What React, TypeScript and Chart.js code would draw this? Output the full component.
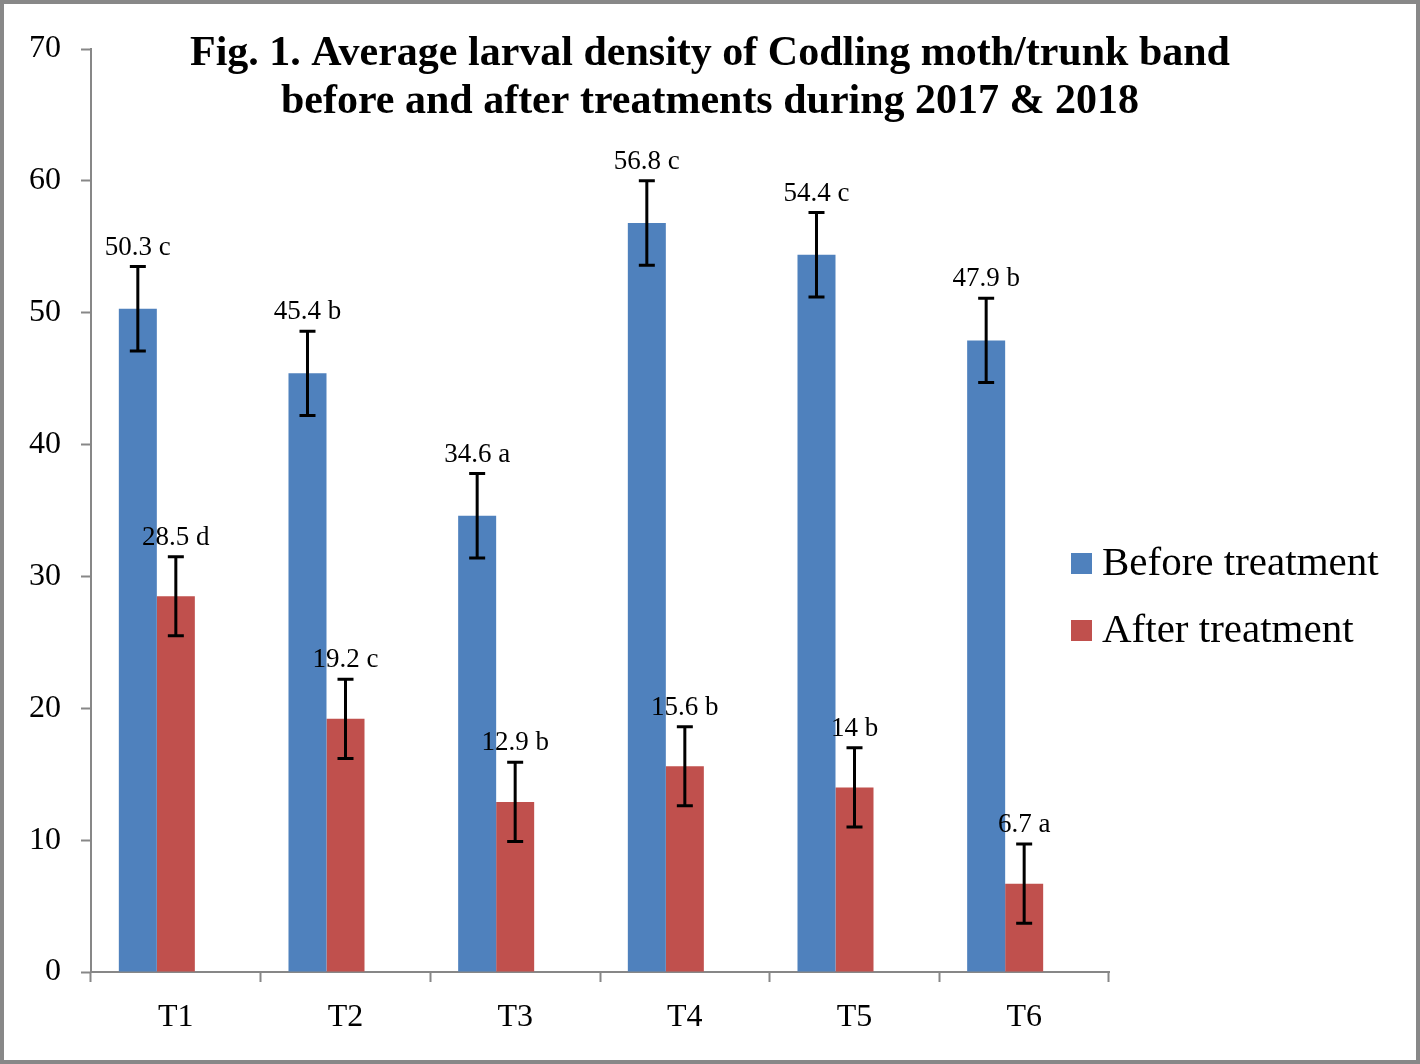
import React, { useEffect, useRef } from "react";
import { Chart, registerables } from "chart.js";

Chart.register(...registerables);

const categories = ["T1", "T2", "T3", "T4", "T5", "T6"];
const beforeValues = [50.3, 45.4, 34.6, 56.8, 54.4, 47.9];
const afterValues = [28.5, 19.2, 12.9, 15.6, 14, 6.7];
const emptySlot = [null, null, null, null, null, null];
const beforeErrors = [3.2, 3.2, 3.2, 3.2, 3.2, 3.2];
const afterErrors = [3.0, 3.0, 3.0, 3.0, 3.0, 3.0];
const beforeLetters = ["c", "b", "a", "c", "c", "b"];
const afterLetters = ["d", "c", "b", "b", "b", "a"];
const seriesNames = ["Before treatment", "After treatment"];
const titleLines = [
  "Fig. 1. Average larval density of Codling moth/trunk band",
  "before and after treatments during 2017 & 2018",
];

const BLUE = "#4F81BD";
const RED = "#C0504D";
const AXIS = "#878787";
const FONT = "'Liberation Serif', 'Times New Roman', serif";

export default function App() {
  const ref = useRef<HTMLCanvasElement | null>(null);

  useEffect(() => {
    if (!ref.current) return;
    const errs = [beforeErrors, afterErrors];
    const letters = [beforeLetters, afterLetters];

    const decor = {
      id: "decor",
      beforeDraw(chart: any) {
        const ctx = chart.ctx;
        ctx.save();
        ctx.fillStyle = "#ffffff";
        ctx.fillRect(0, 0, chart.width, chart.height);
        ctx.restore();
      },
      afterDatasetsDraw(chart: any) {
        const ctx = chart.ctx;
        const y = chart.scales.y;
        ctx.save();
        [0, 1].forEach((di) => {
          const ds = chart.data.datasets[di];
          const meta = chart.getDatasetMeta(di);
          meta.data.forEach((bar: any, i: number) => {
            const v = ds.data[i];
            const e = errs[di][i];
            const yt = y.getPixelForValue(v + e);
            const yb = y.getPixelForValue(v - e);
            const x = bar.x;
            ctx.strokeStyle = "#000";
            ctx.lineWidth = 3;
            ctx.beginPath();
            ctx.moveTo(x, yt);
            ctx.lineTo(x, yb);
            ctx.moveTo(x - 8, yt);
            ctx.lineTo(x + 8, yt);
            ctx.moveTo(x - 8, yb);
            ctx.lineTo(x + 8, yb);
            ctx.stroke();
            ctx.fillStyle = "#000";
            ctx.font = `27px ${FONT}`;
            ctx.textAlign = "center";
            ctx.textBaseline = "alphabetic";
            ctx.fillText(`${v} ${letters[di][i]}`, x, yt - 12);
          });
        });
        ctx.restore();
      },
      afterDraw(chart: any) {
        const ctx = chart.ctx;
        ctx.save();
        // title
        ctx.fillStyle = "#000";
        ctx.font = `bold 42px ${FONT}`;
        ctx.textAlign = "center";
        ctx.textBaseline = "middle";
        ctx.fillText(titleLines[0], 710, 54);
        ctx.fillText(titleLines[1], 710, 102);
        // legend
        const colors = [BLUE, RED];
        ctx.font = `41px ${FONT}`;
        ctx.textAlign = "left";
        seriesNames.forEach((n, i) => {
          const cy = 563 + i * 67;
          ctx.fillStyle = colors[i];
          ctx.fillRect(1071, cy - 10, 21, 21);
          ctx.fillStyle = "#000";
          ctx.fillText(n, 1102, cy + 1);
        });
        // border
        ctx.strokeStyle = "#888888";
        ctx.lineWidth = 4;
        ctx.strokeRect(2, 2, chart.width - 4, chart.height - 4);
        ctx.restore();
      },
    };

    const chart = new Chart(ref.current, {
      type: "bar",
      data: {
        labels: categories,
        datasets: [
          {
            label: seriesNames[0],
            data: beforeValues,
            backgroundColor: BLUE,
            categoryPercentage: 0.672,
            barPercentage: 1,
          },
          {
            label: seriesNames[1],
            data: afterValues,
            backgroundColor: RED,
            categoryPercentage: 0.672,
            barPercentage: 1,
          },
          {
            label: "",
            data: emptySlot,
            backgroundColor: "rgba(0,0,0,0)",
            categoryPercentage: 0.672,
            barPercentage: 1,
          },
        ],
      },
      options: {
        animation: false,
        responsive: false,
        devicePixelRatio: 1,
        layout: { padding: { left: 0, right: 311, top: 49, bottom: 0 } },
        plugins: {
          legend: { display: false },
          title: { display: false },
          tooltip: { enabled: false },
        },
        scales: {
          x: {
            afterFit(scale: any) {
              scale.height = 92;
            },
            grid: {
              drawOnChartArea: false,
              drawTicks: true,
              tickLength: 10,
              tickColor: AXIS,
              tickWidth: 2,
              offset: true,
            },
            border: { display: true, color: AXIS, width: 2 },
            ticks: {
              color: "#000",
              font: { family: FONT, size: 32 },
              padding: 16,
            },
          },
          y: {
            min: 0,
            max: 70,
            afterFit(scale: any) {
              scale.width = 91;
            },
            grid: {
              drawOnChartArea: false,
              drawTicks: true,
              tickLength: 10,
              tickColor: AXIS,
              tickWidth: 2,
            },
            border: { display: true, color: AXIS, width: 2 },
            ticks: {
              stepSize: 10,
              color: "#000",
              font: { family: FONT, size: 32 },
              padding: 20,
            },
          },
        },
      },
      plugins: [decor],
    });
    return () => chart.destroy();
  }, []);

  return (
    <div style={{ position: "fixed", left: 0, top: 0, width: 1420, height: 1064 }}>
      <canvas ref={ref} width={1420} height={1064} style={{ display: "block", width: 1420, height: 1064 }} />
    </div>
  );
}
